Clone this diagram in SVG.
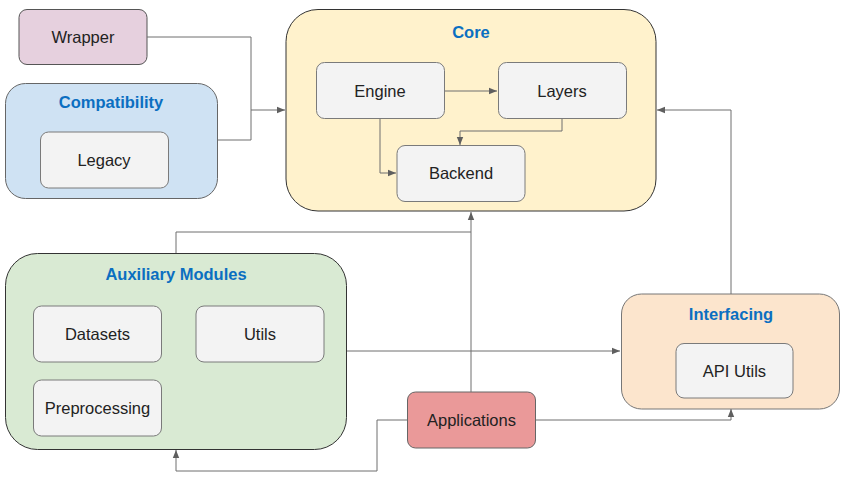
<svg xmlns="http://www.w3.org/2000/svg" width="845" height="477" viewBox="0 0 845 477">
<defs>
<marker id="arr" viewBox="0 0 10 10" refX="10" refY="5" markerWidth="8" markerHeight="8" markerUnits="userSpaceOnUse" orient="auto">
<path d="M0,1 L10,5 L0,9 Z" fill="#5f5f5f"/>
</marker>
<style>
.node{fill:#f3f3f3;stroke:#7a7a7a;stroke-width:1}
.cont{stroke:#555;stroke-width:1}
.t{font-family:"Liberation Sans",Arial,sans-serif;font-size:16.5px;fill:#222;text-anchor:middle;dominant-baseline:central}
.lbl{font-family:"Liberation Sans",Arial,sans-serif;font-size:16.5px;font-weight:bold;fill:#0b6fc1;text-anchor:middle;dominant-baseline:central}
.c{fill:none;stroke:#6f6f6f;stroke-width:1}
</style>
</defs>
<rect width="845" height="477" fill="#fff"/>
<g id="wrapper">
<rect x="19" y="9.5" width="128" height="55" rx="8" fill="#e6d0de" class="cont"/>
<text class="t" x="83" y="37">Wrapper</text>
</g>
<g id="compatibility">
<rect x="5.5" y="83.5" width="212" height="115" rx="20" fill="#cfe2f3" stroke="#666"/>
<text class="lbl" x="111" y="102">Compatibility</text>
</g>
<g id="legacy">
<rect x="40.5" y="132" width="128" height="56" rx="8" class="node"/>
<text class="t" x="104" y="160">Legacy</text>
</g>
<g id="core">
<rect x="286" y="9.5" width="370" height="201.5" rx="32" fill="#fff2cc" stroke="#333"/>
<text class="lbl" x="471" y="32">Core</text>
</g>
<g id="engine">
<rect x="316.5" y="62.5" width="128" height="56" rx="8" class="node"/>
<text class="t" x="380" y="91">Engine</text>
</g>
<g id="layers">
<rect x="498.5" y="62.5" width="128" height="56" rx="8" class="node"/>
<text class="t" x="562" y="91">Layers</text>
</g>
<g id="backend">
<rect x="397" y="145.5" width="128" height="56" rx="8" class="node"/>
<text class="t" x="461" y="173">Backend</text>
</g>
<g id="auxiliary">
<rect x="5.5" y="253.5" width="341" height="196" rx="32" fill="#d9ead3" stroke="#333"/>
<text class="lbl" x="176" y="274">Auxiliary Modules</text>
</g>
<g id="datasets">
<rect x="33.5" y="306" width="128" height="56" rx="8" class="node"/>
<text class="t" x="97.5" y="334">Datasets</text>
</g>
<g id="utils">
<rect x="196" y="306" width="128" height="56" rx="8" class="node"/>
<text class="t" x="260" y="334">Utils</text>
</g>
<g id="preprocessing">
<rect x="33.5" y="380" width="128" height="56" rx="8" class="node"/>
<text class="t" x="97.5" y="408">Preprocessing</text>
</g>
<g id="interfacing">
<rect x="621.5" y="294" width="218" height="115" rx="20" fill="#fce5cd" stroke="#777"/>
<text class="lbl" x="731" y="314">Interfacing</text>
</g>
<g id="apiutils">
<rect x="676" y="343.5" width="117" height="54.5" rx="8" class="node"/>
<text class="t" x="734.5" y="371">API Utils</text>
</g>
<g id="applications">
<rect x="407.5" y="392" width="128" height="56" rx="8" fill="#ea9999" stroke="#666"/>
<text class="t" x="471.5" y="420">Applications</text>
</g>
<g id="connectors">
<polyline class="c" points="147,37 251,37 251,110 285,110" marker-end="url(#arr)"/>
<polyline class="c" points="218,140 251,140 251,110"/>
<polyline class="c" points="445,91 497,91" marker-end="url(#arr)"/>
<polyline class="c" points="380,119 380,173 396,173" marker-end="url(#arr)"/>
<polyline class="c" points="562,119 562,131 460,131 460,145" marker-end="url(#arr)"/>
<polyline class="c" points="176,253 176,232 471,232"/>
<polyline class="c" points="471,392 471,212" marker-end="url(#arr)"/>
<polyline class="c" points="347,351 620,351" marker-end="url(#arr)"/>
<polyline class="c" points="407,420 377,420 377,471 176,471 176,450" marker-end="url(#arr)"/>
<polyline class="c" points="536,420 731,420 731,409" marker-end="url(#arr)"/>
<polyline class="c" points="731,294 731,110 657,110" marker-end="url(#arr)"/>
</g>
</svg>
